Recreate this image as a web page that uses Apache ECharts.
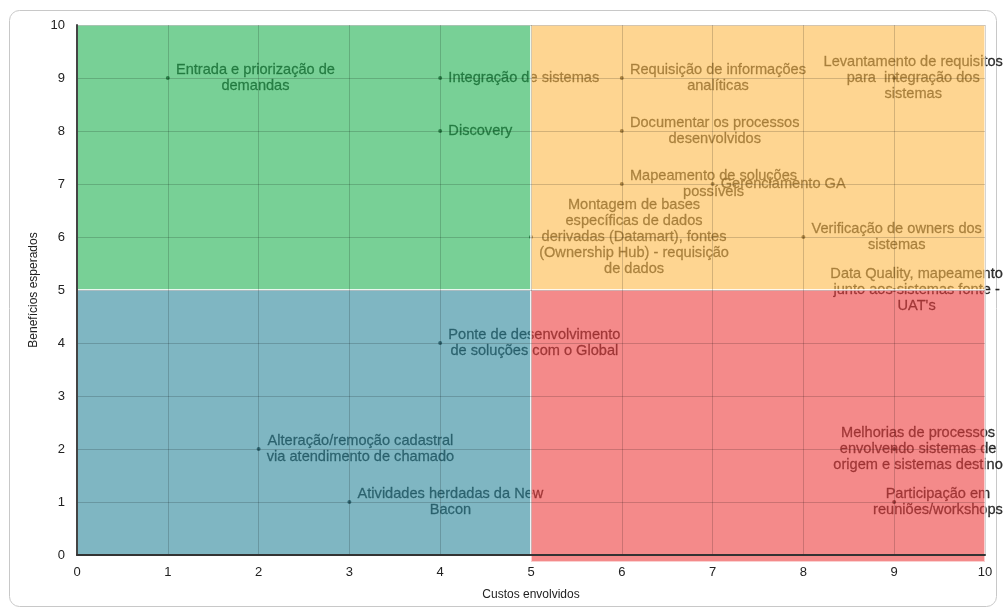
<!DOCTYPE html>
<html>
<head>
<meta charset="utf-8">
<script src="https://cdn.jsdelivr.net/npm/echarts@6/dist/echarts.min.js"></script>
<style>
  html, body { margin: 0; padding: 0; background: #fff; }
  #chart { width: 1005px; height: 615px; }
</style>
</head>
<body>
<div id="chart"></div>
<script>
// Activities: cost (x), benefit (y), label
var costs    = [1, 4, 4, 6, 6, 6, 7, 5, 8, 9, 9, 4, 2, 3, 9, 9];
var benefits = [9, 9, 8, 9, 8, 7, 7, 6, 6, 9, 5, 4, 2, 1, 2, 1];
var labels = [
	'Entrada e priorização de\ndemandas',
	'Integração de sistemas',
	'Discovery',
	'Requisição de informações\nanalíticas',
	'Documentar os processos\ndesenvolvidos',
	'Mapeamento de soluções\npossíveis',
	'Gerenciamento GA',
	'Montagem de bases\nespecíficas de dados\nderivadas (Datamart), fontes\n(Ownership Hub) - requisição\nde dados',
	'Verificação de owners dos\nsistemas',
	'Levantamento de requisitos\npara  integração dos\nsistemas',
	'Data Quality, mapeamento\njunto aos sistemas fonte -\nUAT\'s',
	'Ponte de desenvolvimento\nde soluções com o Global',
	'Alteração/remoção cadastral\nvia atendimento de chamado',
	'Atividades herdadas da New\nBacon',
	'Melhorias de processos\nenvolvendo sistemas de\norigem e sistemas destino',
	'Participação em\nreuniões/workshops'
];

// Quadrants: [xFrom, yFrom, xTo, yTo]
var quadrants = [
	[0, 5, 5, 10],
	[5, 5, 10, 10],
	[0, 0, 5, 5],
	[5, -0.13, 10, 5]
];
var quadrantColors = ['#1eb150', '#fdb948', '#2a8599', '#ed3c3c'];

var xTicks = [0, 10];
var yTicks = [0, 10];

var FONT = '"Liberation Sans", Arial, sans-serif';

function GenerateChart() {
	var chart = echarts.init(document.getElementById('chart'), null, {renderer: 'canvas'});

	var points = costs.map(function (c, i) {
		return {value: [c, benefits[i]], name: labels[i]};
	});

	chart.setOption({
		animation: false,
		textStyle: {fontFamily: FONT},
		graphic: [{
			type: 'rect',
			shape: {x: 9.5, y: 10.5, width: 987, height: 596, r: 10},
			style: {fill: 'none', stroke: '#c8c8c8', lineWidth: 1},
			silent: true
		}],
		grid: {left: 77, right: 20, top: 25, bottom: 60},
		xAxis: {
			type: 'value',
			min: xTicks[0],
			max: xTicks[1],
			interval: 1,
			z: 20,
			name: 'Custos envolvidos',
			nameLocation: 'middle',
			nameGap: 34,
			nameTextStyle: {fontSize: 12, color: '#222', fontFamily: FONT},
			axisLine: {show: true, lineStyle: {color: '#333', width: 2}},
			axisTick: {show: false},
			axisLabel: {fontSize: 13, color: '#222', margin: 11, fontFamily: FONT},
			splitLine: {show: true, lineStyle: {color: 'rgba(0,0,0,0.17)', width: 1}}
		},
		yAxis: {
			type: 'value',
			min: yTicks[0],
			max: yTicks[1],
			interval: 1,
			z: 20,
			name: 'Benefícios esperados',
			nameLocation: 'middle',
			nameGap: 30,
			nameTextStyle: {fontSize: 12, color: '#222', fontFamily: FONT},
			axisLine: {show: true, lineStyle: {color: '#444', width: 2}},
			axisTick: {show: false},
			axisLabel: {fontSize: 13, color: '#222', margin: 12, fontFamily: FONT},
			splitLine: {show: true, lineStyle: {color: 'rgba(0,0,0,0.17)', width: 1}}
		},
		series: [
			{
				type: 'scatter',
				z: 2,
				symbol: 'circle',
				symbolSize: 4,
				itemStyle: {color: '#111'},
				data: points,
				label: {
					show: true,
					position: 'right',
					distance: 6,
					formatter: '{b}',
					color: '#000',
					textBorderColor: '#000',
					textBorderWidth: 0.3,
					fontSize: 14.6,
					lineHeight: 16,
					fontFamily: FONT
				},
				labelLayout: function (params) {
					var w = params.labelRect.width;
					var left = params.rect.x + params.rect.width + 6;
					var cx = Math.min(left + w / 2, chart.getWidth() - 2 - w / 2);
					var cy = params.rect.y + params.rect.height / 2;
					return {x: cx, y: cy, align: 'center', verticalAlign: 'middle'};
				}
			},
			{
				// quadrant overlays, drawn above points and labels
				type: 'custom',
				z: 10,
				silent: true,
				clip: false,
				data: quadrants,
				renderItem: function (params, api) {
					var q = quadrants[params.dataIndex];
					var p0 = api.coord([q[0], q[3]]);
					var p1 = api.coord([q[2], q[1]]);
					return {
						type: 'rect',
						shape: {x: p0[0], y: p0[1], width: p1[0] - p0[0], height: p1[1] - p0[1]},
						style: {
							fill: quadrantColors[params.dataIndex],
							opacity: 0.6,
							stroke: '#fff',
							lineWidth: 2
						}
					};
				}
			}
		]
	});
}

GenerateChart();
</script>
</body>
</html>
